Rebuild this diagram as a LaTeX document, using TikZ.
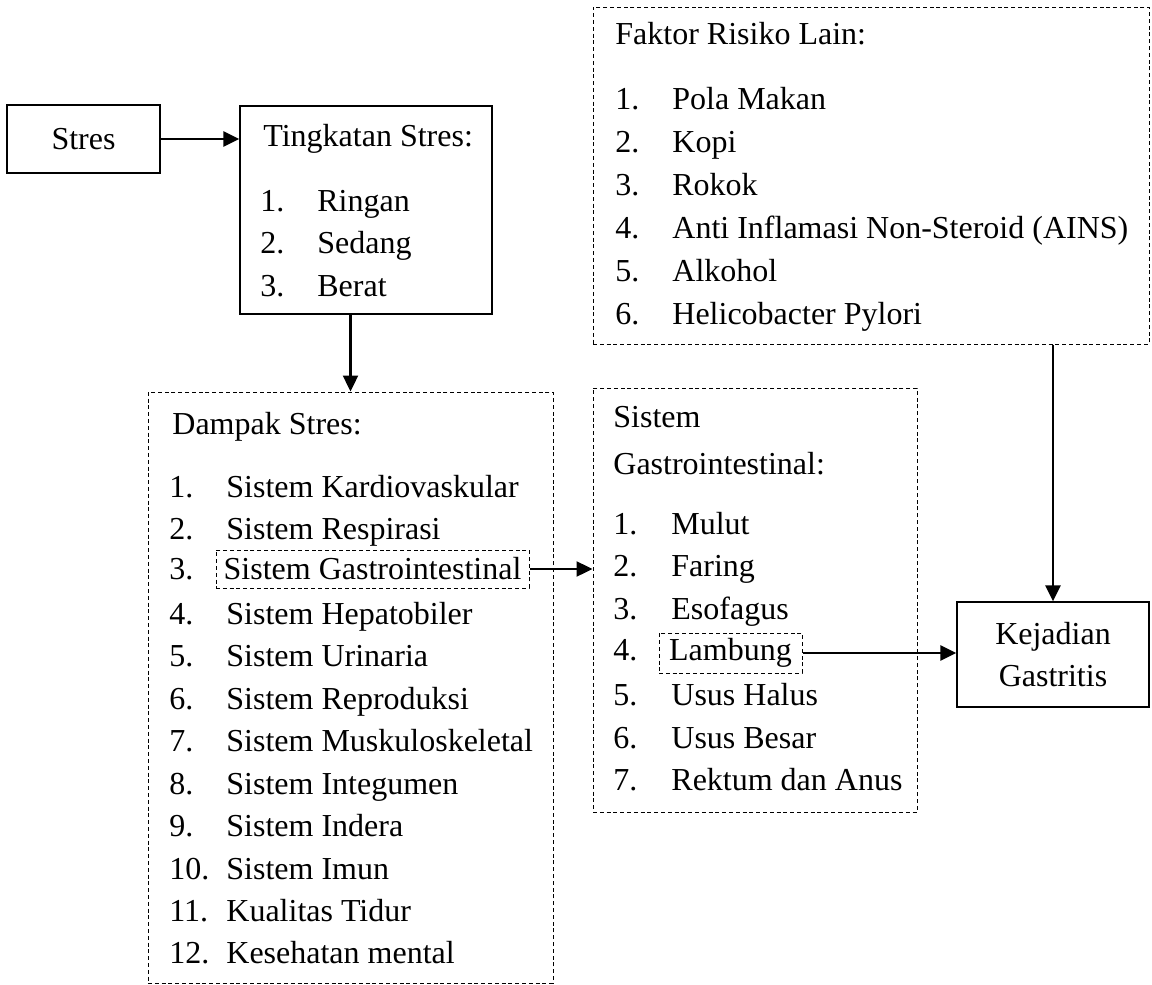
\documentclass[tikz,border=0pt]{standalone}
\usepackage{fontspec}
\setmainfont{Liberation Serif}
\usetikzlibrary{arrows.meta,calc}
\begin{document}
\begin{tikzpicture}[x=0.5pt,y=-0.5pt,
  every node/.style={font=\fontsize{16}{21}\selectfont},
  solidbox/.style={draw,line width=0.65pt,inner sep=0pt},
  dashbox/.style={draw,line width=0.5pt,dash pattern=on 2pt off 1.4pt,inner sep=0pt},
  txt/.style={anchor=base west,inner sep=0pt},
  arr/.style={line width=1.2pt,-{Triangle[length=8pt,width=7.5pt]}}]
\useasboundingbox (0,0) rectangle (1152,985);

% Stres
\node[solidbox,minimum width=76.5pt,minimum height=34pt] (stres) at (83.5,139) {Stres};

% Tingkatan Stres
\node[solidbox,minimum width=126pt,minimum height=104pt] (ting) at (366,210) {};
\node[txt] (tingT) at (263,146) {Tingkatan Stres:};
\foreach \t [count=\i] in {Ringan,Sedang,Berat}{
  \node[txt] (tn\i) at (260,{211+42.5*(\i-1)}) {\i.};
  \node[txt] (tt\i) at (317,{211+42.5*(\i-1)}) {\t};
}

% Dampak Stres
\node[dashbox,minimum width=202.5pt,minimum height=295.5pt] (dampak) at (350.5,687.5) {};
\node[txt] (dT) at (172,434) {Dampak Stres:};
\node[dashbox,minimum width=156.5pt,minimum height=19pt] (gi) at (372.5,569) {Sistem Gastrointestinal};
\foreach \t [count=\i] in {Sistem Kardiovaskular,Sistem Respirasi,Sistem Gastrointestinal,Sistem Hepatobiler,Sistem Urinaria,Sistem Reproduksi,Sistem Muskuloskeletal,Sistem Integumen,Sistem Indera,Sistem Imun,Kualitas Tidur,Kesehatan mental}{
  \ifnum\i=3
    \node[txt] (dn\i) at ($(169,0)!(gi.base)!(169,100)$) {\i.};
  \else
    \node[txt] (dn\i) at (169,{497+42.45*(\i-1)}) {\i.};
    \node[txt] (dt\i) at (226,{497+42.45*(\i-1)}) {\t};
  \fi
}

% Sistem Gastrointestinal
\node[dashbox,minimum width=162pt,minimum height=212pt] (gastro) at (755,600) {};
\node[txt] (gT1) at (613,427) {Sistem};
\node[txt] (gT2) at (613,474) {Gastrointestinal:};
\node[dashbox,minimum width=71.5pt,minimum height=20pt] (lam) at (730.5,653) {Lambung};
\foreach \t [count=\i] in {Mulut,Faring,Esofagus,Lambung,Usus Halus,Usus Besar,Rektum dan Anus}{
  \ifnum\i=4
    \node[txt] (gn\i) at ($(613,0)!(lam.base)!(613,100)$) {\i.};
  \else
    \node[txt] (gn\i) at (613,{534+42.8*(\i-1)}) {\i.};
    \node[txt] (gt\i) at (671,{534+42.8*(\i-1)}) {\t};
  \fi
}

% Faktor Risiko Lain
\node[dashbox,minimum width=278pt,minimum height=168.5pt] (faktor) at (871,175.5) {};
\node[txt] (fT) at (615,45) {Faktor Risiko Lain:};
\foreach \t [count=\i] in {Pola Makan,Kopi,Rokok,Anti Inflamasi Non-Steroid (AINS),Alkohol,Helicobacter Pylori}{
  \node[txt] (fn\i) at (615,{109+43*(\i-1)}) {\i.};
  \node[txt] (ft\i) at (672,{109+43*(\i-1)}) {\t};
}

% Kejadian Gastritis
\node[solidbox,minimum width=96pt,minimum height=52.5pt,align=center] (kej) at (1053,654.5) {Kejadian\\Gastritis};

% Connectors
\draw[arr] (stres.east) -- (stres.east -| ting.west);
\draw[arr] (dampak.north |- ting.south) -- (dampak.north);
\draw[arr] (gi.east) -- (gi.east -| gastro.west);
\draw[arr] (lam.east) -- (lam.east -| kej.west);
\draw[arr] (kej.north |- faktor.south) -- (kej.north);
\end{tikzpicture}
\end{document}
